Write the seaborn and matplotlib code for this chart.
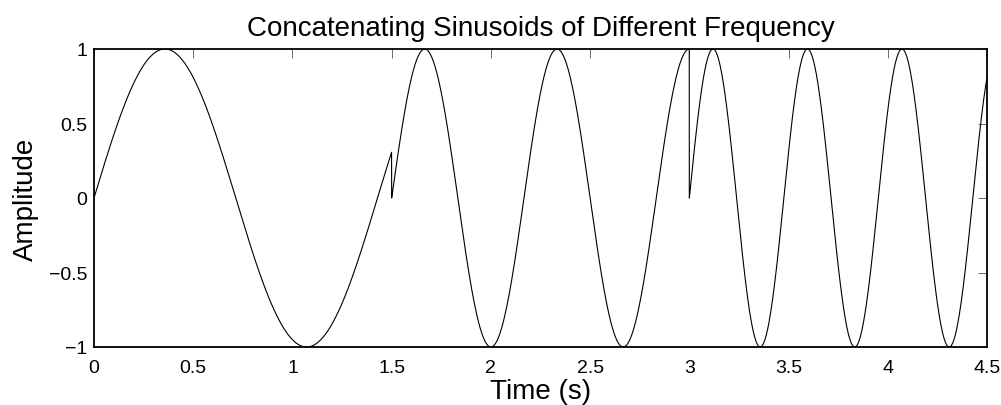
import numpy as np
import pandas as pd
import matplotlib
matplotlib.use("Agg")
import matplotlib.pyplot as plt
import seaborn as sns

# ---- data (segment parameters) ----
segment_starts = [0.0, 1.5, 3.0]          # s
segment_durations = [1.5, 1.5, 1.5]       # s
segment_freqs_hz = [0.7, 1.5, 2.1]        # Hz
sample_rate = 2000                        # samples / s

x_ticks = [0, 0.5, 1, 1.5, 2, 2.5, 3, 3.5, 4, 4.5]
x_tick_labels = ["0", "0.5", "1", "1.5", "2", "2.5", "3", "3.5", "4", "4.5"]
y_ticks = [-1, -0.5, 0, 0.5, 1]
y_tick_labels = ["\u22121", "\u22120.5", "0", "0.5", "1"]

title = "Concatenating Sinusoids of Different Frequency"
x_label = "Time (s)"
y_label = "Amplitude"

# ---- build the concatenated signal ----
times, amps = [], []
for i, (t0, dur, f) in enumerate(zip(segment_starts, segment_durations, segment_freqs_hz)):
    n = int(round(dur * sample_rate))
    last = i == len(segment_starts) - 1
    local = np.arange(n + (1 if last else 0)) / sample_rate
    times.append(t0 + local)
    amps.append(np.sin(2 * np.pi * f * local))
df = pd.DataFrame({"t": np.concatenate(times), "a": np.concatenate(amps)})

# ---- plot ----
sns.set_theme(style="white")
plt.rcParams["font.family"] = ["Liberation Sans", "DejaVu Sans"]

fig = plt.figure(figsize=(10.01, 4.06), dpi=100)
ax = fig.add_axes([94 / 1001, 1 - 348 / 406, (987 - 94) / 1001, (348 - 50) / 406])

sns.lineplot(data=df, x="t", y="a", ax=ax, color="black", linewidth=0.8,
             sort=False, estimator=None)

ax.set_xlim(0, 4.5)
ax.set_ylim(-1, 1)
ax.set_xticks(x_ticks)
ax.set_xticklabels(x_tick_labels)
ax.set_yticks(y_ticks)
ax.set_yticklabels(y_tick_labels)

for s in ax.spines.values():
    s.set_visible(True)
    s.set_color("black")
    s.set_linewidth(1.3)

ax.tick_params(axis="both", which="both", direction="in", length=6.5, width=0.6,
               color="#555555", top=True, right=True, labelsize=14,
               labelcolor="black")
ax.tick_params(axis="x", pad=8.5)
ax.tick_params(axis="y", pad=5)

ax.set_title(title, fontsize=20, pad=10, color="black")
ax.set_xlabel(x_label, fontsize=20, labelpad=1.5, color="black")
ax.set_ylabel(y_label, fontsize=20, labelpad=7, color="black")
ax.grid(False)

fig.savefig("out.png", dpi=100, facecolor="white")
